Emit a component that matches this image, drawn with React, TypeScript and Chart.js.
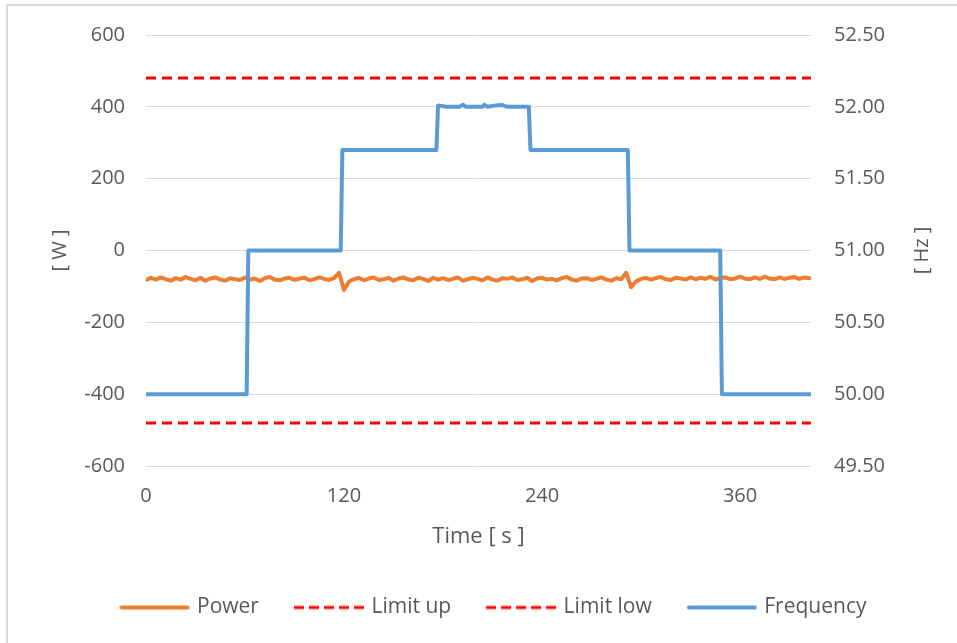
import React, { useEffect, useRef } from "react";
import { Chart, registerables } from "chart.js";

Chart.register(...registerables);

const xTicks = [0, 120, 240, 360];
const xMax = 403;
const leftTicksRange = [-600, 600];
const rightTicksRange = [49.5, 52.5];

const powerStep = 3;
const powerValues = [
  -82, -76, -81, -75, -80, -84, -77, -81, -74, -79,
  -83, -76, -84, -78, -75, -81, -84, -77, -80, -82,
  -75, -81, -78, -85, -77, -74, -81, -83, -78, -76,
  -82, -78, -76, -83, -80, -75, -79, -82, -77,
  -62, -110,
  -86, -80, -76, -83, -78, -75, -82, -80, -76,
  -84, -78, -75, -81, -83, -76, -79, -85, -76, -81,
  -77, -82, -79, -75, -84, -80, -76, -79, -83, -75,
  -81, -84, -77, -79, -75, -82, -80, -76, -85, -78,
  -76, -81, -79, -83, -77, -74, -81, -84, -78, -77,
  -82, -79, -75, -81, -84, -77, -80,
  -62, -102,
  -86, -79, -76, -81, -77, -74, -80, -82, -76, -78, -81,
  -75, -80, -76, -79, -73, -81, -76, -75, -80, -78,
  -73, -78, -80, -75, -79, -73, -78, -80, -75, -79,
  -76, -74, -79, -75, -77,
];

const freqTimes = [0, 61, 62, 118, 119, 176, 177, 182, 190, 192, 194, 204, 205, 207, 212, 216, 219, 232, 233, 292, 293, 348, 349, 403];
const freqValues = [50, 50, 51, 51, 51.7, 51.7, 52.01, 52.0, 52.0, 52.015, 52.0, 52.0, 52.015, 52.0, 52.01, 52.012, 52.0, 52.0, 51.7, 51.7, 51, 51, 50, 50];

const limitTimes = [0, 403];
const limitUpValues = [52.2, 52.2];
const limitLowValues = [49.8, 49.8];

const FONT = "'Open Sans', sans-serif";
const GRAY = "#595959";

function sample(color: string, width: number, dash: number[], cap: CanvasLineCap) {
  const c = document.createElement("canvas");
  c.width = 82;
  c.height = 8;
  const g = c.getContext("2d")!;
  g.strokeStyle = color;
  g.lineWidth = width;
  g.lineCap = cap;
  g.setLineDash(dash);
  g.beginPath();
  g.moveTo(cap === "round" ? 10 : 8, 4);
  g.lineTo(cap === "round" ? 76 : 78, 4);
  g.stroke();
  return c;
}

const rightTitle = {
  id: "rightTitle",
  afterLayout(chart: any) {
    if (chart.legend) {
      chart.legend.left += 14;
      chart.legend.right += 14;
    }
  },
  afterDraw(chart: any) {
    const s = chart.scales.y2;
    const ctx = chart.ctx;
    ctx.save();
    ctx.translate(s.right - 35, (chart.chartArea.top + chart.chartArea.bottom) / 2);
    ctx.rotate(-Math.PI / 2);
    ctx.fillStyle = GRAY;
    ctx.font = `20px ${FONT}`;
    ctx.textAlign = "center";
    ctx.textBaseline = "middle";
    ctx.fillText("[ Hz ]", 0, 0);
    ctx.restore();
  },
};

export default function App() {
  const ref = useRef<HTMLCanvasElement>(null);
  useEffect(() => {
    if (!ref.current) return;
    Chart.defaults.font.family = FONT;
    const powerData = powerValues.map((v, i) => ({ x: i * powerStep, y: v }));
    const freqData = freqTimes.map((t, i) => ({ x: t, y: freqValues[i] }));
    const upData = limitTimes.map((t, i) => ({ x: t, y: limitUpValues[i] }));
    const lowData = limitTimes.map((t, i) => ({ x: t, y: limitLowValues[i] }));
    const chart = new Chart(ref.current, {
      type: "line",
      plugins: [rightTitle],
      data: {
        datasets: [
          {
            label: "Power",
            data: powerData,
            yAxisID: "y",
            borderColor: "#ED7D31",
            backgroundColor: "#ED7D31",
            borderWidth: 4,
            pointRadius: 0,
            borderCapStyle: "round",
            borderJoinStyle: "round",
            pointStyle: sample("#ED7D31", 4, [], "round"),
            order: 1,
          },
          {
            label: "Limit up",
            data: upData,
            yAxisID: "y2",
            borderColor: "#FF0000",
            backgroundColor: "#FF0000",
            borderWidth: 3,
            borderDash: [10, 6],
            pointRadius: 0,
            pointStyle: sample("#FF0000", 3, [10, 5], "butt"),
            order: 2,
          },
          {
            label: "Limit low",
            data: lowData,
            yAxisID: "y2",
            borderColor: "#FF0000",
            backgroundColor: "#FF0000",
            borderWidth: 3,
            borderDash: [10, 6],
            pointRadius: 0,
            pointStyle: sample("#FF0000", 3, [10, 5], "butt"),
            order: 2,
          },
          {
            label: "Frequency",
            data: freqData,
            yAxisID: "y2",
            borderColor: "#5B9BD5",
            backgroundColor: "#5B9BD5",
            borderWidth: 4,
            pointRadius: 0,
            borderCapStyle: "round",
            borderJoinStyle: "round",
            pointStyle: sample("#5B9BD5", 4, [], "round"),
            order: 0,
          },
        ],
      },
      options: {
        animation: false,
        responsive: false,
        maintainAspectRatio: false,
        layout: { padding: { top: 34, bottom: 15, left: 0, right: 0 } },
        plugins: {
          tooltip: { enabled: false },
          legend: {
            position: "bottom",
            labels: {
              usePointStyle: true,
              pointStyleWidth: 68,
              boxHeight: 21,
              padding: 34,
              color: GRAY,
              font: { size: 21, family: FONT },
              sort: (a: any, b: any) => a.datasetIndex - b.datasetIndex,
            },
          },
        },
        scales: {
          x: {
            type: "linear",
            min: 0,
            max: xMax,
            grid: { display: false, drawTicks: false },
            border: { display: false },
            ticks: { color: GRAY, font: { size: 20 }, padding: 18, autoSkip: false, maxRotation: 0 },
            afterBuildTicks: (s: any) => {
              s.ticks = xTicks.map((v) => ({ value: v }));
            },
            afterFit: (s: any) => {
              s.height = 97;
            },
            title: {
              display: true,
              text: "Time [ s ]",
              color: GRAY,
              font: { size: 22 },
              padding: { top: 0, bottom: 13 },
            },
          },
          y: {
            type: "linear",
            position: "left",
            min: leftTicksRange[0],
            max: leftTicksRange[1],
            grid: { color: "#D9D9D9", lineWidth: 1, drawTicks: false },
            border: { display: false },
            ticks: { stepSize: 200, color: GRAY, font: { size: 20 }, padding: 21 },
            afterFit: (s: any) => {
              s.width = 146;
            },
            title: {
              display: true,
              text: "[ W ]",
              color: GRAY,
              font: { size: 20 },
              padding: { top: 48, bottom: 0 },
            },
          },
          y2: {
            type: "linear",
            position: "right",
            min: rightTicksRange[0],
            max: rightTicksRange[1],
            grid: { display: false, drawTicks: false },
            border: { display: false },
            ticks: {
              stepSize: 0.5,
              color: GRAY,
              font: { size: 20 },
              padding: 23,
              callback: (v: any) => Number(v).toFixed(2),
            },
            afterFit: (s: any) => {
              s.width = 146;
            },
          },
        },
      },
    });
    return () => chart.destroy();
  }, []);

  return (
    <div style={{ position: "fixed", left: 0, top: 0, width: 957, height: 643, overflow: "hidden", background: "#fff" }}>
      <div
        style={{
          position: "absolute",
          left: 6,
          top: 4,
          width: 1100,
          height: 800,
          border: "2px solid #D9D9D9",
          boxSizing: "border-box",
        }}
      />
      <canvas ref={ref} width={957} height={643} style={{ position: "absolute", left: 0, top: 0, display: "block" }} />
    </div>
  );
}
